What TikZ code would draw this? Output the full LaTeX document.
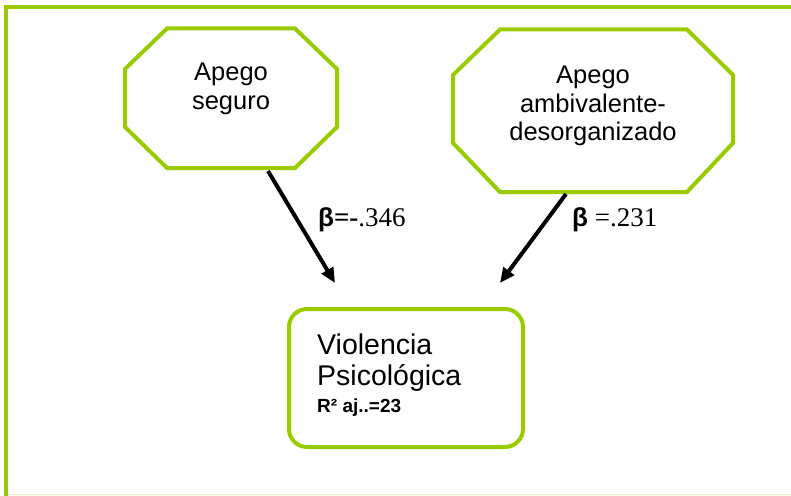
\documentclass[tikz,border=0pt]{standalone}
\usepackage{fontspec}
\setmainfont{Liberation Sans}
\newfontfamily\serifx{Liberation Serif}
\usetikzlibrary{arrows.meta}
\definecolor{framegreen}{HTML}{99CC00}
\tikzset{
  greenline/.style={draw=framegreen, line width=4pt, line join=miter},
  octtext/.style={align=center, font=\fontsize{25.5}{28.5}\selectfont, inner sep=0pt},
  boxtext/.style={anchor=base west, font=\fontsize{28.5}{31}\selectfont, inner sep=0pt},
  betalabel/.style={anchor=base west, font=\serifx\fontsize{27}{30}\selectfont, inner sep=0pt},
  path/.style={draw=black, line width=4pt, -{Triangle[length=15pt,width=13pt]}}
}
\newcommand{\betasym}{{\rmfamily\bfseries\fontsize{26}{30}\selectfont β}}
\begin{document}
\begin{tikzpicture}[x=1pt,y=-1pt]
\useasboundingbox (0,0) rectangle (791,495);
% frame
\draw[framegreen!25, line width=1.5pt] (6,494.5) -- (800,494.5);
\draw[greenline] (800,7) -- (6,7) -- (6,500);
% octagon 1
\draw[greenline] (167,28.5) -- (295,28.5) -- (337,69) -- (337,127) -- (295,168) -- (167,168) -- (125,127) -- (125,69) -- cycle;
\node[octtext] (oct1) at (231,89) {Apego\\seguro};
% octagon 2
\draw[greenline] (500,29.5) -- (687,29.5) -- (733,75) -- (733,143) -- (687,192) -- (500,192) -- (453,143) -- (453,75) -- cycle;
\node[octtext] (oct2) at (593,106) {Apego\\ambivalente-\\desorganizado};
% main box
\node[draw=framegreen, line width=4pt, rounded corners=18pt, minimum width=234pt, minimum height=138pt, inner sep=0pt] (vp) at (406,378) {};
\node[boxtext] (vp1) at (317,354) {Violencia};
\node[boxtext] (vp2) at (317,385) {Psicológica};
\node[anchor=base west, font=\bfseries\fontsize{19}{22}\selectfont, inner sep=0pt] (vp3) at (317,412) {R² aj..=23};
% arrows
\coordinate (s1) at (268,171);
\coordinate (e1) at (335,283);
\coordinate (s2) at (566,194);
\coordinate (e2) at (500,283);
\draw[path] (s1) -- (e1);
\draw[path] (s2) -- (e2);
\node[betalabel] (b1) at (318,226) {\betasym\textbf{=-}.346};
\node[betalabel] (b2) at (572,226) {\betasym\ =.231};
\end{tikzpicture}
\end{document}
